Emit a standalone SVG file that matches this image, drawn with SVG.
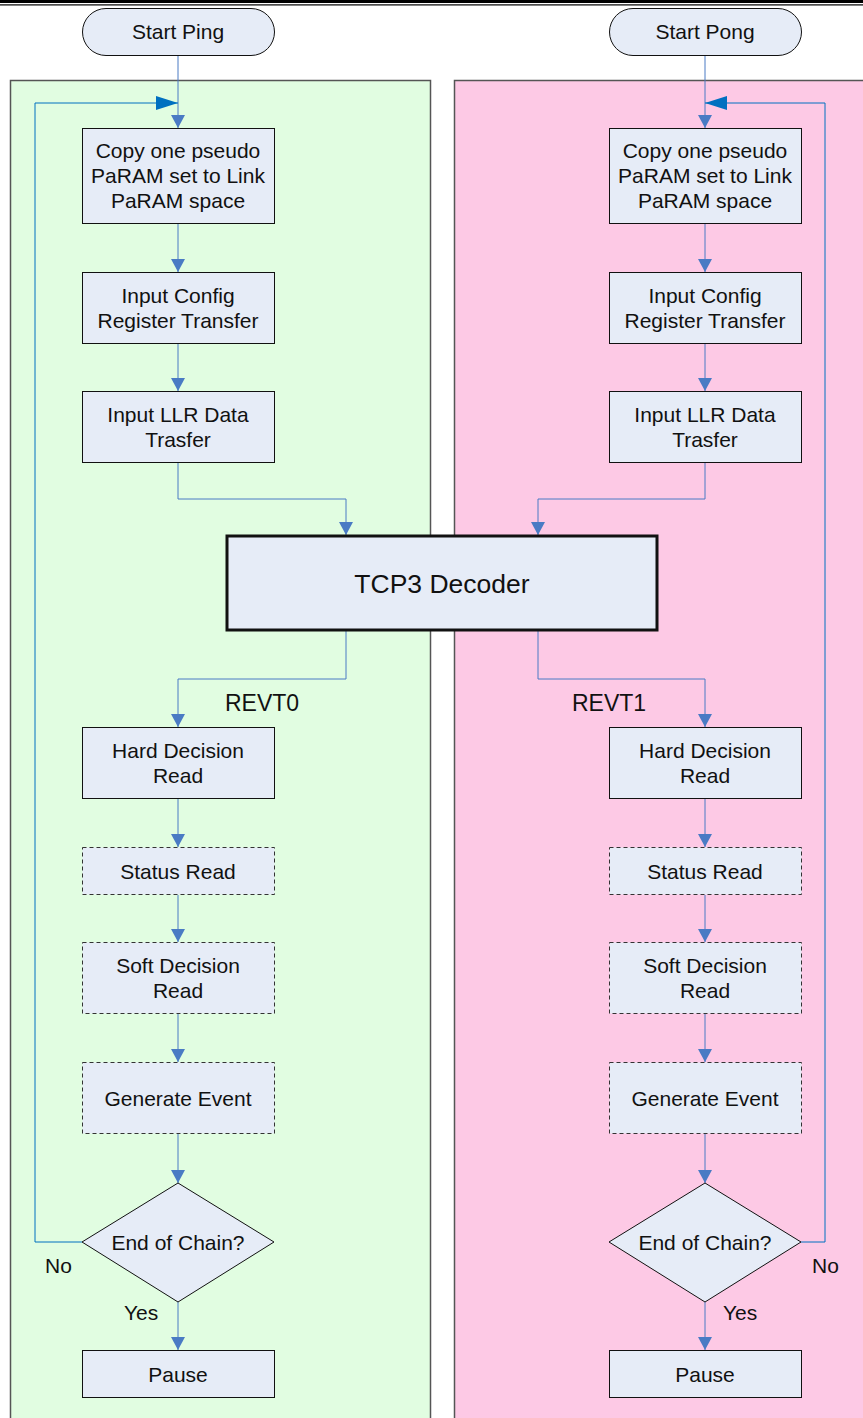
<svg xmlns="http://www.w3.org/2000/svg" width="863" height="1418" viewBox="0 0 863 1418">
  <defs>
    <marker id="arr" markerWidth="14" markerHeight="14" refX="13" refY="7" orient="auto" markerUnits="userSpaceOnUse">
      <path d="M0,0 L13,7 L0,14 Z" fill="#4a7bc4"/>
    </marker>
    <marker id="arrLoop" markerWidth="22" markerHeight="16" refX="22" refY="7" orient="auto" markerUnits="userSpaceOnUse">
      <path d="M0,0 L22,7 L0,14 Z" fill="#0070c0"/>
    </marker>
    <style>
      .lane { stroke: #555; stroke-width: 1.5; }
      .box { fill: #e6ecf7; stroke: #111; stroke-width: 1; }
      .dash { stroke-dasharray: 4 3; stroke: #333; }
      .heavy { stroke-width: 3; }
      .lbl { font-family: "Liberation Sans", Arial, sans-serif; font-size: 21px; fill: #111; text-anchor: middle; }
      .big { font-size: 26.5px; }
      .side { font-family: "Liberation Sans", Arial, sans-serif; font-size: 21px; fill: #111; }
      .evt { font-size: 23px; }
      .flow { fill: none; stroke: #4a7bc4; stroke-width: 1; marker-end: url(#arr); }
      .loop { fill: none; stroke: #0070c0; stroke-width: 1; marker-end: url(#arrLoop); }
    </style>
  </defs>

  <rect width="863" height="1418" fill="#fff"/>

  <!-- page header rule -->
  <rect x="0" y="0" width="863" height="3" fill="#000"/>
  <rect x="0" y="4.3" width="863" height="1.2" fill="#000"/>

  <!-- swimlanes -->
  <g id="lane-ping">
    <rect class="lane" x="10.5" y="80.5" width="420" height="1345" fill="#e1fde1"/>
  </g>
  <g id="lane-pong">
    <rect class="lane" x="454.5" y="80.5" width="420" height="1345" fill="#fdc9e5"/>
  </g>

  <!-- connectors -->
  <g id="connectors">
    <!-- ping column -->
    <path class="flow" d="M178,56 V128"/>
    <path class="flow" d="M178,224 V272"/>
    <path class="flow" d="M178,344 V391"/>
    <path class="flow" d="M178,463 V499 H346 V535"/>
    <path class="flow" d="M346,631 V679 H178 V727"/>
    <path class="flow" d="M178,799 V847"/>
    <path class="flow" d="M178,895 V942"/>
    <path class="flow" d="M178,1014 V1062"/>
    <path class="flow" d="M178,1134 V1183"/>
    <path class="flow" d="M178,1302 V1350"/>
    <path class="loop" d="M82,1242 H35 V103 H178"/>
    <!-- pong column -->
    <path class="flow" d="M705,56 V128"/>
    <path class="flow" d="M705,224 V272"/>
    <path class="flow" d="M705,344 V391"/>
    <path class="flow" d="M705,463 V499 H538 V535"/>
    <path class="flow" d="M538,631 V679 H705 V727"/>
    <path class="flow" d="M705,799 V847"/>
    <path class="flow" d="M705,895 V942"/>
    <path class="flow" d="M705,1014 V1062"/>
    <path class="flow" d="M705,1134 V1183"/>
    <path class="flow" d="M705,1302 V1350"/>
    <path class="loop" d="M801,1242 H825 V103 H705"/>
  </g>

  <!-- ping nodes -->
  <g id="start-ping">
    <rect class="box" x="82.5" y="8.5" width="192" height="47" rx="23.5"/>
    <text class="lbl" x="178" y="39">Start Ping</text>
  </g>
  <g id="ping-copy">
    <rect class="box" x="82.5" y="128.5" width="192" height="95"/>
    <text class="lbl" x="178" y="157.5">Copy one pseudo</text>
    <text class="lbl" x="178" y="182.5">PaRAM set to Link</text>
    <text class="lbl" x="178" y="207.5">PaRAM space</text>
  </g>
  <g id="ping-config">
    <rect class="box" x="82.5" y="272.5" width="192" height="71"/>
    <text class="lbl" x="178" y="302.5">Input Config</text>
    <text class="lbl" x="178" y="327.5">Register Transfer</text>
  </g>
  <g id="ping-llr">
    <rect class="box" x="82.5" y="391.5" width="192" height="71"/>
    <text class="lbl" x="178" y="421.5">Input LLR Data</text>
    <text class="lbl" x="178" y="446.5">Trasfer</text>
  </g>
  <g id="ping-hard">
    <rect class="box" x="82.5" y="727.5" width="192" height="71"/>
    <text class="lbl" x="178" y="757.5">Hard Decision</text>
    <text class="lbl" x="178" y="782.5">Read</text>
  </g>
  <g id="ping-status">
    <rect class="box dash" x="82.5" y="847.5" width="192" height="47"/>
    <text class="lbl" x="178" y="878.5">Status Read</text>
  </g>
  <g id="ping-soft">
    <rect class="box dash" x="82.5" y="942.5" width="192" height="71"/>
    <text class="lbl" x="178" y="972.5">Soft Decision</text>
    <text class="lbl" x="178" y="997.5">Read</text>
  </g>
  <g id="ping-event">
    <rect class="box dash" x="82.5" y="1062.5" width="192" height="71"/>
    <text class="lbl" x="178" y="1105.5">Generate Event</text>
  </g>
  <g id="ping-end">
    <path class="box" d="M178,1183 L274,1242 L178,1302 L82,1242 Z"/>
    <text class="lbl" x="178" y="1249.5">End of Chain?</text>
  </g>
  <g id="ping-pause">
    <rect class="box" x="82.5" y="1350.5" width="192" height="47"/>
    <text class="lbl" x="178" y="1381.5">Pause</text>
  </g>

  <!-- shared decoder -->
  <g id="decoder">
    <rect class="box heavy" x="227" y="536" width="430" height="94"/>
    <text class="lbl big" x="442" y="592.5">TCP3 Decoder</text>
  </g>

  <!-- pong nodes -->
  <g id="start-pong">
    <rect class="box" x="609.5" y="8.5" width="192" height="47" rx="23.5"/>
    <text class="lbl" x="705" y="39">Start Pong</text>
  </g>
  <g id="pong-copy">
    <rect class="box" x="609.5" y="128.5" width="192" height="95"/>
    <text class="lbl" x="705" y="157.5">Copy one pseudo</text>
    <text class="lbl" x="705" y="182.5">PaRAM set to Link</text>
    <text class="lbl" x="705" y="207.5">PaRAM space</text>
  </g>
  <g id="pong-config">
    <rect class="box" x="609.5" y="272.5" width="192" height="71"/>
    <text class="lbl" x="705" y="302.5">Input Config</text>
    <text class="lbl" x="705" y="327.5">Register Transfer</text>
  </g>
  <g id="pong-llr">
    <rect class="box" x="609.5" y="391.5" width="192" height="71"/>
    <text class="lbl" x="705" y="421.5">Input LLR Data</text>
    <text class="lbl" x="705" y="446.5">Trasfer</text>
  </g>
  <g id="pong-hard">
    <rect class="box" x="609.5" y="727.5" width="192" height="71"/>
    <text class="lbl" x="705" y="757.5">Hard Decision</text>
    <text class="lbl" x="705" y="782.5">Read</text>
  </g>
  <g id="pong-status">
    <rect class="box dash" x="609.5" y="847.5" width="192" height="47"/>
    <text class="lbl" x="705" y="878.5">Status Read</text>
  </g>
  <g id="pong-soft">
    <rect class="box dash" x="609.5" y="942.5" width="192" height="71"/>
    <text class="lbl" x="705" y="972.5">Soft Decision</text>
    <text class="lbl" x="705" y="997.5">Read</text>
  </g>
  <g id="pong-event">
    <rect class="box dash" x="609.5" y="1062.5" width="192" height="71"/>
    <text class="lbl" x="705" y="1105.5">Generate Event</text>
  </g>
  <g id="pong-end">
    <path class="box" d="M705,1183 L801,1242 L705,1302 L609,1242 Z"/>
    <text class="lbl" x="705" y="1249.5">End of Chain?</text>
  </g>
  <g id="pong-pause">
    <rect class="box" x="609.5" y="1350.5" width="192" height="47"/>
    <text class="lbl" x="705" y="1381.5">Pause</text>
  </g>

  <!-- edge labels -->
  <g id="labels">
    <text class="side evt" x="225" y="711">REVT0</text>
    <text class="side evt" x="572" y="711">REVT1</text>
    <text class="side" x="45" y="1273">No</text>
    <text class="side" x="124" y="1320">Yes</text>
    <text class="side" x="723" y="1320">Yes</text>
    <text class="side" x="812" y="1273">No</text>
  </g>
</svg>
